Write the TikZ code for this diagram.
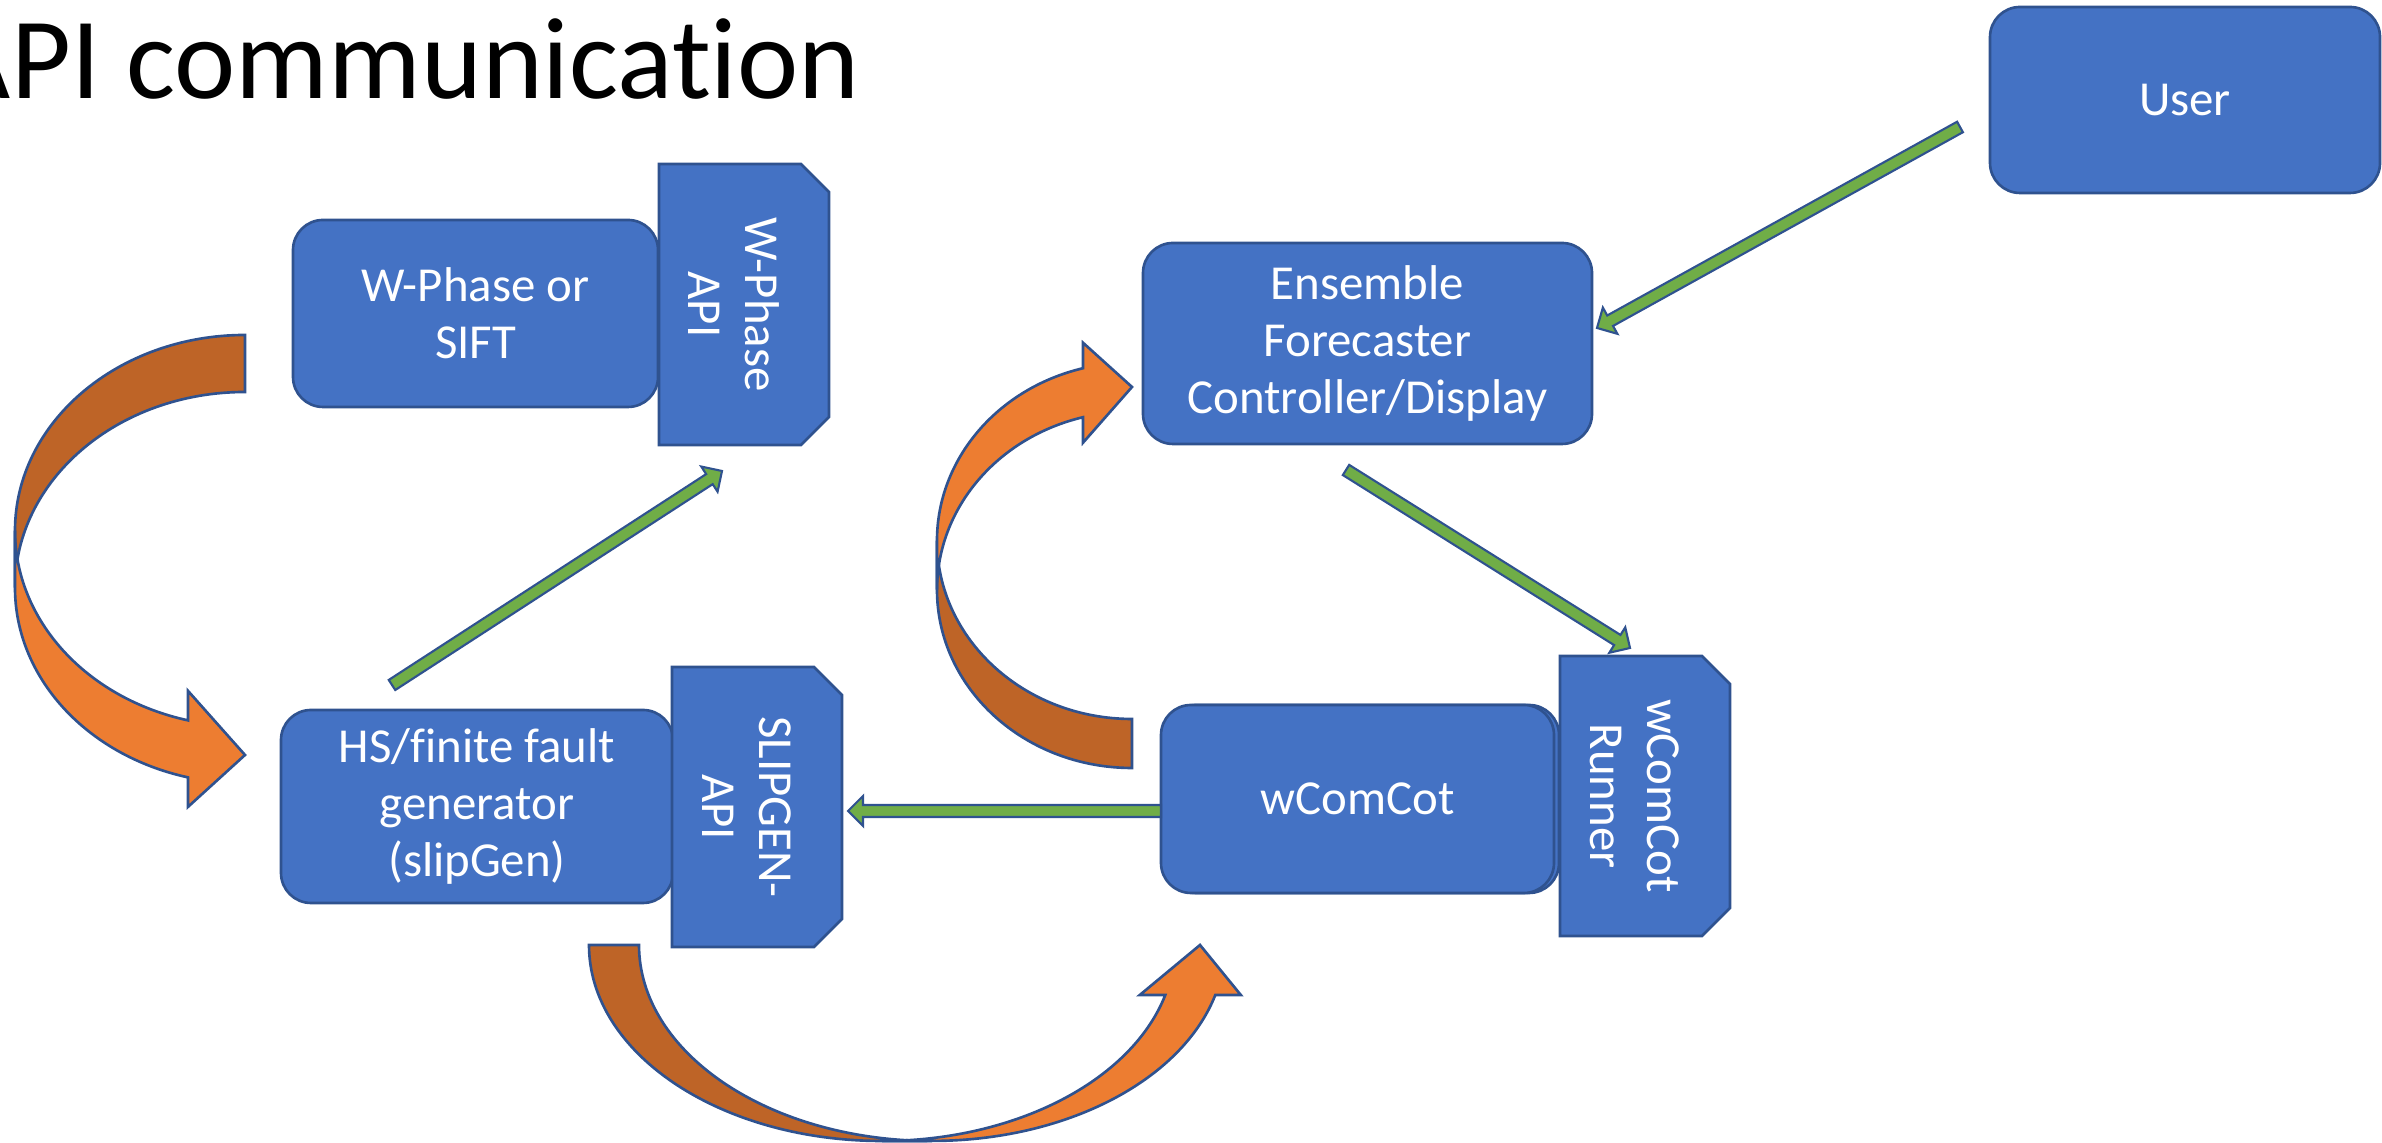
\documentclass[tikz,border=0pt]{standalone}
\usepackage{fontspec}
\setmainfont{Carlito}[Ligatures=NoCommon]
\usetikzlibrary{calc, shadows}

\tikzset{
  boxnode/.style={draw=edgeblue, fill=boxblue, line width=0.75pt, rounded corners=3mm,
    text=white, align=center, font=\fontsize{13.9}{16.3}\selectfont},
  apitab/.style={inner sep=0pt, outer sep=0pt},
  tabshape/.style={draw=edgeblue, fill=boxblue, line width=0.75pt},
  tabtext/.style={text=white, align=center, rotate=-90, inner sep=0pt,
    font=\fontsize{13.9}{16.3}\selectfont},
  greenarrow/.style={draw=edgeblue, fill=arrowgreen, line width=0.6pt, line join=miter},
  bendback/.style={draw=edgeblue, fill=orangedark, line width=0.75pt},
  bendfront/.style={draw=edgeblue, fill=orangelight, line width=0.75pt},
}

% tab outline with both right corners snipped off
\newcommand{\sniptab}[1]{%
  \path[tabshape] (#1.south west) -- (#1.north west) -- ($(#1.north east)+(-28,0)$)
    -- ($(#1.north east)+(0,-28)$) -- ($(#1.south east)+(0,28)$)
    -- ($(#1.south east)+(-28,0)$) -- cycle;
}

% straight block arrow from #1 to #2
\newcommand{\blockarrow}[2]{%
  \coordinate (ba-h) at ($(#2)!1.5mm!(#1)$);
  \path[greenarrow] ($(#1)!0.6mm!90:(#2)$) -- ($(ba-h)!0.6mm!90:(#2)$)
    -- ($(ba-h)!1.5mm!90:(#2)$) -- (#2) -- ($(ba-h)!1.5mm!-90:(#2)$)
    -- ($(ba-h)!0.6mm!-90:(#2)$) -- ($(#1)!0.6mm!-90:(#2)$) -- cycle;
}

\begin{document}
\begin{tikzpicture}[x=0.1mm, y=0.1mm]
  % Colors
  \definecolor{boxblue}{RGB}{68,114,196}
  \definecolor{edgeblue}{RGB}{47,82,143}
  \definecolor{arrowgreen}{RGB}{112,173,71}
  \definecolor{orangelight}{RGB}{237,125,49}
  \definecolor{orangedark}{RGB}{190,100,39}

  \useasboundingbox (0,0) rectangle (2382,1143);

  % Title
  \node (title) at (872,1044) [anchor=base east, font=\fontsize{33}{40}\selectfont] {API communication};

  % Components
  \node (wphase) at (475.5,829.5) [boxnode, minimum width=36.5mm, minimum height=18.7mm] {W-Phase or\\SIFT};
  \node (wphaseapi) at (744,838.5) [apitab, minimum width=17mm, minimum height=28.1mm] {};
  \sniptab{wphaseapi}
  \node (wphaseapitext) at ($(wphaseapi.center)+(-10,0)$) [tabtext] {W-Phase\\API};

  \node (hs) at (477,336.5) [boxnode, minimum width=39.2mm, minimum height=19.3mm] {HS/finite fault\\generator\\(slipGen)};
  \node (slipgen) at (757,336) [apitab, minimum width=17mm, minimum height=28mm] {};
  \sniptab{slipgen}
  \node (slipgentext) at ($(slipgen.center)+(-10,0)$) [tabtext] {SLIPGEN-\\API};

  \node (ensemble) at (1367.5,799.5) [boxnode, minimum width=44.9mm, minimum height=20.1mm] {Ensemble\\Forecaster\\Controller/Display};
  \node (user) at (2185,1043) [boxnode, minimum width=39mm, minimum height=18.6mm] {User};

  \node (wcomcot) at (1357.5,344) [boxnode, minimum width=39.3mm, minimum height=18.8mm,
    copy shadow={shadow xshift=0.5mm, shadow yshift=0mm, fill=boxblue, draw=edgeblue}] {wComCot};
  \node (runner) at (1645,347) [apitab, minimum width=17mm, minimum height=28mm] {};
  \sniptab{runner}
  \node (runnertext) at ($(runner.center)+(-10,0)$) [tabtext] {wComCot\\Runner};

  % Bent arrows (dark tail half, light head half)
  \path[bendback] (245,808) arc[start angle=90, end angle=180, x radius=230, y radius=195.75]
    -- (15,555.25) arc[start angle=180, end angle=90, x radius=230, y radius=195.75] -- cycle;
  \path[bendfront] (15,612.25) arc[start angle=180, end angle=255.65, x radius=230, y radius=195.75]
    -- (188,452.1) -- (245,388) -- (188,336.1) -- (188,365.6)
    arc[start angle=255.65, end angle=180, x radius=230, y radius=195.75] -- cycle;

  \path[bendback] (589,198) arc[start angle=180, end angle=270, x radius=293, y radius=196]
    -- (932,2) arc[start angle=270, end angle=180, x radius=293, y radius=196] -- cycle;
  \path[bendfront] (882,2) arc[start angle=270, end angle=345.2, x radius=293, y radius=196]
    -- (1139.8,148) -- (1200,198) -- (1240.8,148) -- (1215.3,148)
    arc[start angle=345.2, end angle=270, x radius=293, y radius=196] -- cycle;

  \path[bendback] (1132,375) arc[start angle=270, end angle=180, x radius=195, y radius=178.25]
    -- (937,602.25) arc[start angle=180, end angle=270, x radius=195, y radius=178.25] -- cycle;
  \path[bendfront] (937,553.25) arc[start angle=180, end angle=104.55, x radius=195, y radius=178.25]
    -- (1083,700.25) -- (1132,756) -- (1083,800.25) -- (1083,774.75)
    arc[start angle=104.55, end angle=180, x radius=195, y radius=178.25] -- cycle;

  % Calls between components
  \coordinate (hsout) at (392,458);
  \coordinate (wphasein) at (722,672);
  \coordinate (ensout) at (1346,673);
  \coordinate (runnerin) at (1630,495);
  \coordinate (userout) at (1960,1016);
  \coordinate (ensin) at (1597,815);
  \coordinate (wcomcotout) at (1161,332);
  \coordinate (slipgenin) at (848,332);

  \blockarrow{hsout}{wphasein}
  \blockarrow{ensout}{runnerin}
  \blockarrow{userout}{ensin}
  \blockarrow{wcomcotout}{slipgenin}
\end{tikzpicture}
\end{document}
